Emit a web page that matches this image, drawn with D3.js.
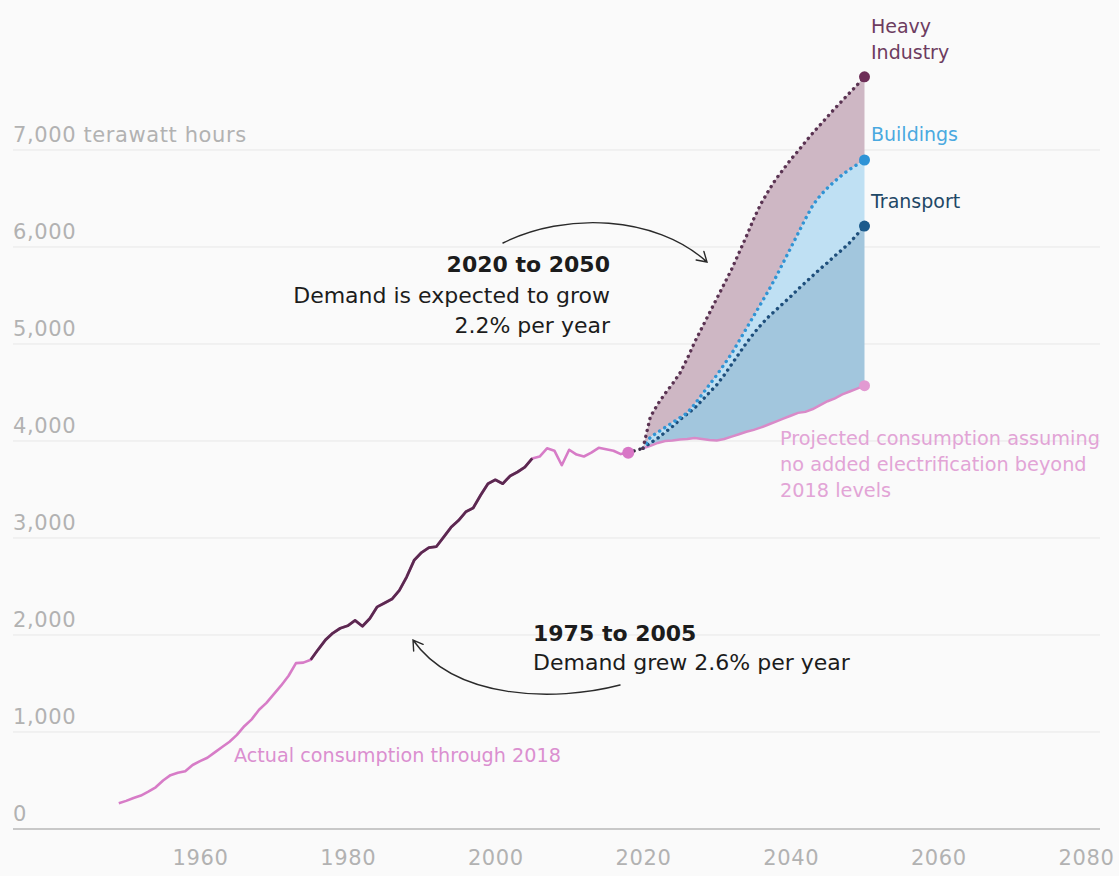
<!DOCTYPE html>
<html>
<head>
<meta charset="utf-8">
<script src="https://cdn.jsdelivr.net/npm/d3@7"></script>
<style>
  html, body { margin: 0; padding: 0; background: #fafafa; }
  svg { display: block; font-family: "DejaVu Sans", "Noto Sans", sans-serif; }
</style>
</head>
<body>
<svg id="chart" width="1119" height="876"></svg>
<script>
// US electricity consumption, terawatt hours
const histYears = d3.range(1949, 2019);
const histValues = [
  265, 290, 320, 345, 385, 430, 500, 555, 580, 595,
  660, 700, 735, 790, 845, 900, 970, 1060, 1130, 1230,
  1300, 1390, 1480, 1580, 1710, 1715, 1745, 1850, 1950, 2020,
  2070, 2095, 2150, 2090, 2170, 2290, 2330, 2370, 2460, 2600,
  2770, 2850, 2900, 2910, 3010, 3110, 3180, 3270, 3310, 3440,
  3560, 3600, 3560, 3640, 3680, 3730, 3820, 3840, 3925, 3900,
  3750, 3910, 3860, 3840, 3880, 3930, 3915, 3900, 3865, 3880
];

// Projections 2020-2050 (cumulative stacks)
const projYears = d3.range(2020, 2051);
const baseline = [
  3925, 3950, 3980, 4000, 4005, 4015, 4020, 4030, 4020, 4010,
  4005, 4020, 4045, 4070, 4095, 4115, 4140, 4170, 4200, 4230,
  4260, 4290, 4300, 4330, 4370, 4410, 4440, 4480, 4510, 4540,
  4570
];
const transport = [
  3925, 3980, 4030, 4090, 4150, 4220, 4280, 4340, 4420, 4500,
  4580, 4680, 4790, 4900, 5010, 5110, 5200, 5280, 5350, 5420,
  5490, 5565, 5635, 5705, 5775, 5840, 5910, 5975, 6045, 6130,
  6216
];
const buildings = [
  3925, 4040, 4090, 4140, 4190, 4240, 4290, 4380, 4480, 4580,
  4680, 4790, 4900, 5030, 5160, 5290, 5420, 5550, 5690, 5840,
  5990, 6140, 6290, 6430, 6530, 6610, 6680, 6745, 6800, 6850,
  6897
];
const heavyIndustry = [
  3925, 4250, 4380, 4490, 4590, 4700, 4850, 5020, 5170, 5320,
  5470, 5620, 5770, 5940, 6110, 6290, 6450, 6580, 6700, 6800,
  6900, 6990, 7085, 7175, 7260, 7345, 7430, 7510, 7590, 7670,
  7755
];

const yTicks = [0, 1000, 2000, 3000, 4000, 5000, 6000, 7000];
const xTicks = [1960, 1980, 2000, 2020, 2040, 2060, 2080];

const svg = d3.select("#chart");
const x = d3.scaleLinear().domain([1960, 2080]).range([200, 1086]);
const y = d3.scaleLinear().domain([0, 7000]).range([829, 150]);
const left = 13, right = 1100;

const hist = histYears.map((yr, i) => ({ year: yr, v: histValues[i] }));
const proj = projYears.map((yr, i) => ({
  year: yr, base: baseline[i], tr: transport[i], bu: buildings[i], hi: heavyIndustry[i]
}));

// gridlines and y labels
const grid = svg.append("g");
grid.selectAll("line").data(yTicks.filter(d => d > 0)).join("line")
  .attr("x1", left).attr("x2", right)
  .attr("y1", d => y(d)).attr("y2", d => y(d))
  .attr("stroke", "#e7e7e7").attr("stroke-width", 1);
grid.selectAll("text").data(yTicks).join("text")
  .attr("x", left).attr("y", d => y(d) - 8)
  .attr("fill", "#b2b2b2").attr("font-size", 21).attr("letter-spacing", 0.6)
  .text(d => d === 7000 ? d3.format(",")(d) + " terawatt hours" : d3.format(",")(d));

// x axis
const xAxis = d3.axisBottom(x).tickValues(xTicks).tickFormat(d3.format("d")).tickSize(0).tickPadding(21);
const ax = svg.append("g").attr("transform", `translate(0,${y(0)})`).call(xAxis);
ax.select(".domain").remove();
ax.selectAll("text").attr("fill", "#b2b2b2").attr("font-size", 21).attr("letter-spacing", 0.6)
  .attr("font-family", "'DejaVu Sans', 'Noto Sans', sans-serif");
svg.append("line").attr("x1", left).attr("x2", right)
  .attr("y1", y(0)).attr("y2", y(0)).attr("stroke", "#c8c8c8").attr("stroke-width", 2);

// stacked projection bands
const band = (lo, hi) => d3.area().x(d => x(d.year)).y0(d => y(d[lo])).y1(d => y(d[hi]));
svg.append("path").datum(proj).attr("d", band("bu", "hi")).attr("fill", "#ceb7c4");
svg.append("path").datum(proj).attr("d", band("tr", "bu")).attr("fill", "#bfe0f3");
svg.append("path").datum(proj).attr("d", band("base", "tr")).attr("fill", "#a2c6dd");

// baseline projection
const lineOf = key => d3.line().x(d => x(d.year)).y(d => y(d[key]));
svg.append("path").datum(proj).attr("d", lineOf("base"))
  .attr("fill", "none").attr("stroke", "#d98ac8").attr("stroke-width", 2.5);

// dotted sector lines
const dotted = (key, color) => svg.append("path").datum(proj).attr("d", lineOf(key))
  .attr("fill", "none").attr("stroke", color).attr("stroke-width", 3.4)
  .attr("stroke-linecap", "round").attr("stroke-dasharray", "0.1 6");
dotted("tr", "#1e4f7c");
dotted("bu", "#3194d4");
dotted("hi", "#5a3352");

// connector from last actual year to projection start
const last = hist[hist.length - 1];
svg.append("path")
  .datum([{ year: last.year, v: last.v }, { year: proj[0].year, v: proj[0].hi }])
  .attr("d", d3.line().x(d => x(d.year)).y(d => y(d.v)))
  .attr("fill", "none").attr("stroke", "#3c2b45").attr("stroke-width", 3.4)
  .attr("stroke-linecap", "round").attr("stroke-dasharray", "0.1 6");

// actual consumption
const histLine = d3.line().x(d => x(d.year)).y(d => y(d.v));
svg.append("path").datum(hist).attr("d", histLine)
  .attr("fill", "none").attr("stroke", "#d77cc7").attr("stroke-width", 2.6)
  .attr("stroke-linejoin", "round");
svg.append("path").datum(hist.filter(d => d.year >= 1975 && d.year <= 2005)).attr("d", histLine)
  .attr("fill", "none").attr("stroke", "#5b2950").attr("stroke-width", 2.8)
  .attr("stroke-linejoin", "round");

// end markers
const end = proj[proj.length - 1];
const markers = [
  { v: end.hi, c: "#6e2e58" },
  { v: end.bu, c: "#2e93d6" },
  { v: end.tr, c: "#1b5a8c" },
  { v: end.base, c: "#e29ad2" }
];
svg.selectAll("circle.end").data(markers).join("circle").attr("class", "end")
  .attr("cx", x(end.year)).attr("cy", d => y(d.v)).attr("r", 5.5).attr("fill", d => d.c);
svg.append("circle").attr("cx", x(last.year)).attr("cy", y(last.v)).attr("r", 6).attr("fill", "#d876c6");

// series labels
const lab = (tx, ty, t, c, fs) => svg.append("text").attr("x", tx).attr("y", ty)
  .attr("fill", c).attr("font-size", fs || 19).text(t);
lab(871, 33, "Heavy", "#6d3c60");
lab(871, 59, "Industry", "#6d3c60");
lab(871, 141, "Buildings", "#4aa9e0");
lab(871, 208, "Transport", "#1f4866");
lab(780, 445, "Projected consumption assuming", "#e2a4d6", 19.3);
lab(780, 471, "no added electrification beyond", "#e2a4d6", 19.3);
lab(780, 497, "2018 levels", "#e2a4d6", 19.3);
lab(234, 762, "Actual consumption through 2018", "#db8fd0", 19.2);

// annotations
const note = svg.append("g").attr("fill", "#1c1c1c").attr("font-size", 22);
note.append("text").attr("x", 610).attr("y", 272).attr("text-anchor", "end")
  .attr("font-weight", "bold").text("2020 to 2050");
note.append("text").attr("x", 610).attr("y", 303).attr("text-anchor", "end")
  .text("Demand is expected to grow");
note.append("text").attr("x", 610).attr("y", 333).attr("text-anchor", "end")
  .text("2.2% per year");
note.append("text").attr("x", 533).attr("y", 641).attr("font-weight", "bold").text("1975 to 2005");
note.append("text").attr("x", 533).attr("y", 670).text("Demand grew 2.6% per year");

// curved arrows
function arrow(p0, c1, c2, p1) {
  const path = d3.path();
  path.moveTo(p0[0], p0[1]);
  path.bezierCurveTo(c1[0], c1[1], c2[0], c2[1], p1[0], p1[1]);
  const a = Math.atan2(p1[1] - c2[1], p1[0] - c2[0]);
  const L = 11, w = 0.55;
  path.moveTo(p1[0] - L * Math.cos(a - w), p1[1] - L * Math.sin(a - w));
  path.lineTo(p1[0], p1[1]);
  path.lineTo(p1[0] - L * Math.cos(a + w), p1[1] - L * Math.sin(a + w));
  svg.append("path").attr("d", path.toString()).attr("fill", "none")
    .attr("stroke", "#2a2a2a").attr("stroke-width", 1.4).attr("stroke-linecap", "round");
}
arrow([503, 243], [565, 212], [655, 215], [707, 262]);
arrow([620, 685], [555, 702], [455, 700], [413, 640]);
</script>
</body>
</html>
